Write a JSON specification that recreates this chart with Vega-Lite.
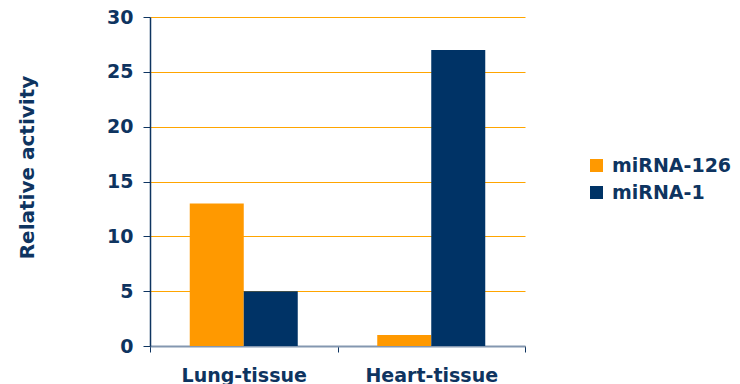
{
  "$schema": "https://vega.github.io/schema/vega-lite/v6.json",
  "autosize": "none",
  "width": 375,
  "height": 329,
  "padding": {"left": 150, "top": 17, "right": 215, "bottom": 38},
  "background": "white",
  "data": {"values": [
    {"tissue": "Lung-tissue", "series": "miRNA-126", "value": 13},
    {"tissue": "Lung-tissue", "series": "miRNA-1", "value": 5},
    {"tissue": "Heart-tissue", "series": "miRNA-126", "value": 1},
    {"tissue": "Heart-tissue", "series": "miRNA-1", "value": 27}
  ]},
  "config": {
    "font": "DejaVu Sans",
    "view": {"stroke": null}
  },
  "mark": {"type": "bar"},
  "encoding": {
    "x": {
      "field": "tissue", "type": "nominal", "sort": ["Lung-tissue", "Heart-tissue"],
      "scale": {"paddingInner": 0, "paddingOuter": 0},
      "axis": {
        "title": null, "labelAngle": 0, "labelFont": "DejaVu Sans", "labelFontWeight": "bold",
        "labelFontSize": 19, "labelColor": "#0E3460", "labelPadding": 14,
        "tickBand": "extent", "ticks": true, "tickSize": 6, "tickColor": "#0E3460",
        "domainColor": "#8497B0", "domainWidth": 2, "grid": false
      }
    },
    "xOffset": {
      "field": "series", "type": "nominal", "sort": ["miRNA-126", "miRNA-1"],
      "scale": {"paddingInner": 0, "paddingOuter": 0.736}
    },
    "y": {
      "field": "value", "type": "quantitative",
      "scale": {"domain": [0, 30], "nice": false},
      "axis": {
        "title": "Relative activity", "titleFont": "DejaVu Sans", "titleFontWeight": "bold",
        "titleFontSize": 20, "titleColor": "#0E3460", "titlePadding": 69, "titleY": 150,
        "values": [0, 5, 10, 15, 20, 25, 30],
        "labelFont": "DejaVu Sans", "labelFontWeight": "bold", "labelFontSize": 19,
        "labelColor": "#0E3460", "labelPadding": 10,
        "tickSize": 7, "tickColor": "#0E3460",
        "domainColor": "#0E3460", "domainWidth": 1.5,
        "grid": true, "gridColor": "#FFA500", "gridWidth": 1, "gridOpacity": 1
      }
    },
    "color": {
      "field": "series", "type": "nominal", "sort": ["miRNA-126", "miRNA-1"],
      "scale": {"domain": ["miRNA-126", "miRNA-1"], "range": ["#FF9900", "#003366"]},
      "legend": {
        "title": null, "orient": "none", "legendX": 437, "legendY": 139,
        "symbolType": "square", "symbolSize": 169, "symbolStrokeWidth": 0,
        "labelFont": "DejaVu Sans", "labelFontWeight": "bold", "labelFontSize": 19,
        "labelColor": "#0E3460", "rowPadding": 7, "labelOffset": 6
      }
    }
  }
}
